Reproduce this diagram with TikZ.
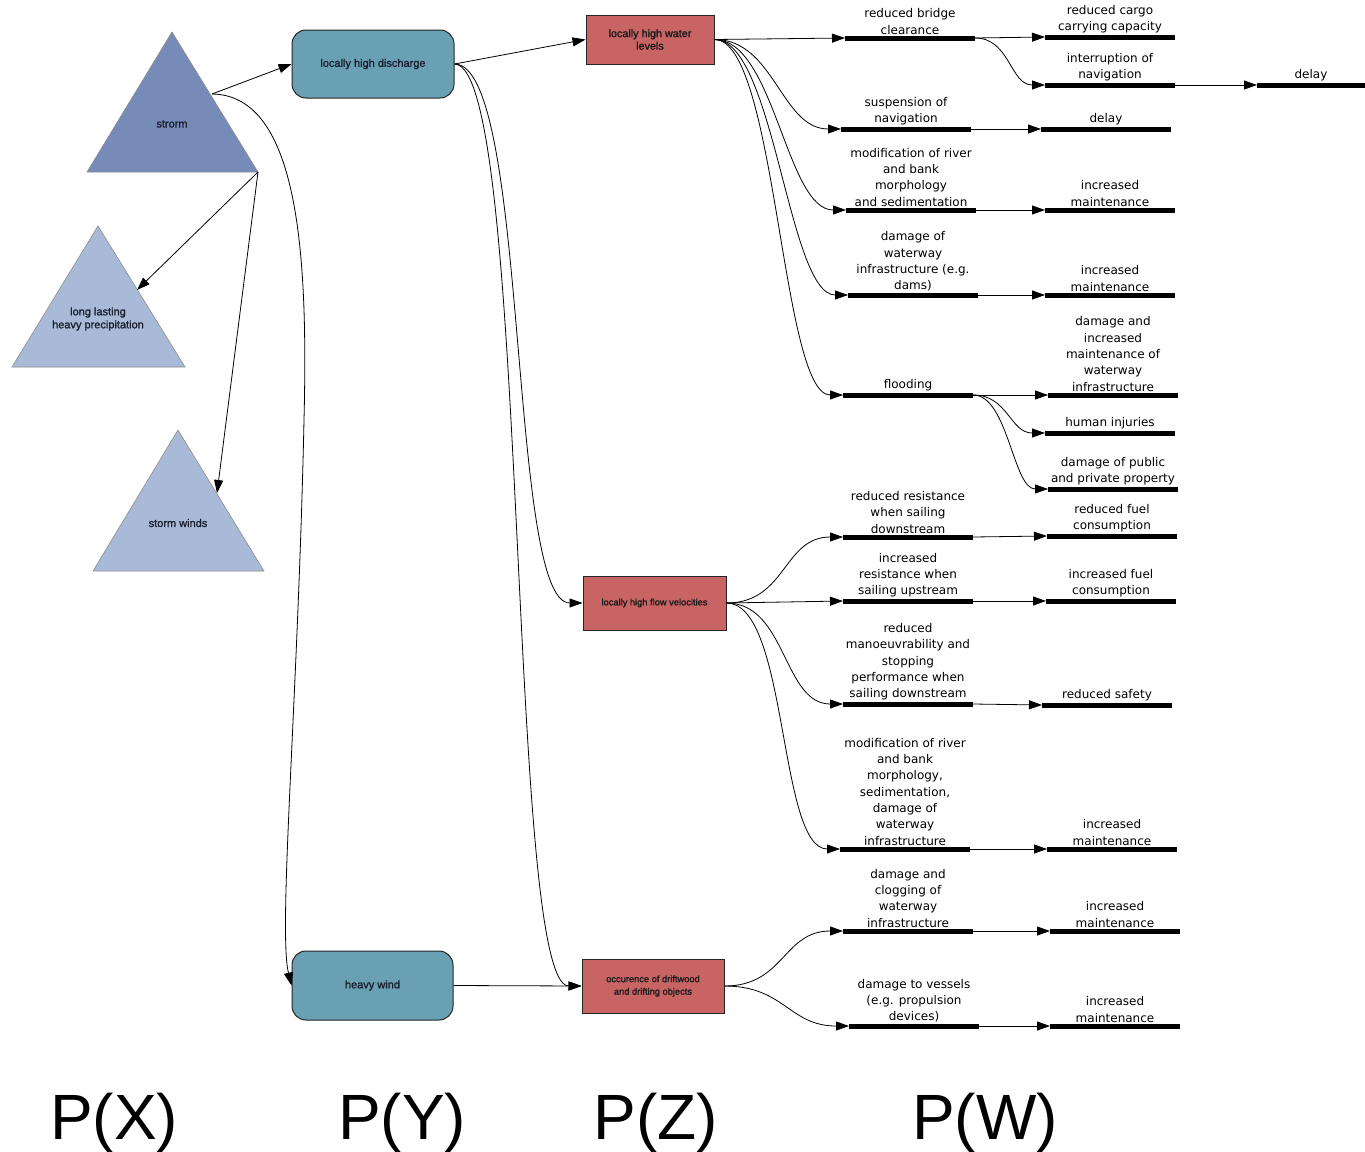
\documentclass[tikz,border=0pt]{standalone}
\usepackage{fontspec}
\setmainfont{Liberation Sans}
\newfontfamily\dvfont{DejaVu Sans}
\newfontfamily\shpfont[FakeBold=1.2]{Liberation Sans}
\usetikzlibrary{arrows.meta}
\definecolor{stormc}{HTML}{768BB7}
\definecolor{lightc}{HTML}{A8BAD8}
\definecolor{tealc}{HTML}{6AA0B4}
\definecolor{redc}{HTML}{C86464}
\definecolor{txtc}{HTML}{1A1F2E}
\newcommand\evt[5][130]{\node[bar, minimum width=#1pt, label={[lbl]above:{#5}}] (#2) at (#3,#4) {};}
\begin{document}
\begin{tikzpicture}[x=1pt,y=-1pt,
  arr/.style={draw=black, line width=0.8pt, -{Triangle[length=13pt,width=9pt]}},
  bar/.style={fill=black, minimum height=5pt, inner sep=0pt, outer sep=0pt},
  lbl/.style={font=\dvfont\fontsize{12}{16.3}\selectfont, align=center, inner sep=1pt, text=black},
  shp/.style={font=\shpfont\fontsize{11}{13}\selectfont, text=txtc, align=center, inner sep=0pt},
  tri/.style={draw=black!45, line width=0.6pt},
  tbox/.style={draw=black!85, line width=1pt, fill=tealc, rounded corners=14pt, inner sep=0pt,
    font=\shpfont\fontsize{11}{13}\selectfont, text=txtc, align=center},
  rbox/.style={draw=black!85, line width=1pt, fill=redc, inner sep=0pt,
    font=\shpfont\fontsize{9.3}{12.5}\selectfont, text=black!90, align=center},
  plbl/.style={font=\fontsize{64}{70}\selectfont, anchor=base, inner sep=0pt},
  sc/.style={out=0, in=180, distance=#1},
  sc/.default=60pt]
\useasboundingbox (0,0) rectangle (1365,1151);

% ---- triangles (P(X)) ----
\path[tri, fill=stormc] (172,32) -- (258,172) -- (87,172) -- cycle;
\path[tri, fill=lightc] (98,226) -- (185,367) -- (12,367) -- cycle;
\path[tri, fill=lightc] (178,430) -- (264,571) -- (93,571) -- cycle;
\node[shp] (storm) at (172,124) {strorm};
\node[shp] (rain) at (98,319) {long lasting\\heavy precipitation};
\node[shp] (winds) at (178,523) {storm winds};
\coordinate (stormR) at (212,94);
\coordinate (stormC) at (258,172);
\coordinate (rainR) at (137,290);
\coordinate (windsR) at (217,493);

% ---- P(Y) ----
\node[tbox, minimum width=162pt, minimum height=68pt] (dis) at (373,64) {locally high discharge};
\node[tbox, minimum width=161pt, minimum height=69pt] (hw) at (372.5,985.5) {heavy wind};

% ---- P(Z) ----
\node[rbox, minimum width=128pt, minimum height=49pt, font=\shpfont\fontsize{10.8}{12.5}\selectfont] (wl) at (650,39.5) {locally high water\\levels};
\node[rbox, minimum width=143pt, minimum height=54pt] (fv) at (654.5,603) {locally high flow velocities};
\node[rbox, minimum width=142pt, minimum height=54pt] (dw) at (653,986) {occurence of driftwood\\and drifting objects};

% ---- P(W) first column ----
\evt{bBridge}{910}{38}{reduced bridge\\clearance}
\evt{bSusp}{906}{129}{suspension of\\navigation}
\evt{bMod}{911}{210}{modification of river\\and bank\\morphology\\and sedimentation}
\evt{bDam}{913}{295}{damage of\\waterway\\infrastructure (e.g.\\dams)}
\evt{bFlood}{908}{395}{flooding}
\evt{bRedRes}{908}{537}{reduced resistance\\when sailing\\downstream}
\evt{bIncRes}{908}{601}{increased\\resistance when\\sailing upstream}
\evt{bManoe}{908}{704}{reduced\\manoeuvrability and\\stopping\\performance when\\sailing downstream}
\evt{bModB}{905}{849}{modification of river\\and bank\\morphology,\\sedimentation,\\damage of\\waterway\\infrastructure}
\evt{bClog}{908}{931}{damage and\\clogging of\\waterway\\infrastructure}
\evt{bVessel}{914}{1026}{damage to vessels\\(e.g. propulsion\\devices)}

% ---- P(W) second column ----
\evt{cCargo}{1110}{37}{reduced cargo\\carrying capacity}
\evt{cInterr}{1110}{85}{interruption of\\navigation}
\evt[108]{cDelayB}{1311}{85}{delay}
\evt{cDelay}{1106}{129}{delay}
\evt{cMaintA}{1110}{210}{increased\\maintenance}
\evt{cMaintB}{1110}{295}{increased\\maintenance}
\evt{cDamMaint}{1113}{395}{damage and\\increased\\maintenance of\\waterway\\infrastructure}
\evt{cInjur}{1110}{433}{human injuries}
\evt{cProp}{1113}{489}{damage of public\\and private property}
\evt{cRFuel}{1112}{536}{reduced fuel\\consumption}
\evt{cIFuel}{1111}{601}{increased fuel\\consumption}
\evt{cSafety}{1107}{705}{reduced safety}
\evt{cMaintC}{1112}{849}{increased\\maintenance}
\evt{cMaintD}{1115}{931}{increased\\maintenance}
\evt{cMaintE}{1115}{1026}{increased\\maintenance}

% ---- connectors P(X) ----
\draw[arr] (stormR) -- (dis.west);
\draw[arr] (stormC) -- (rainR);
\draw[arr] (stormC) -- (windsR);
\draw[arr] (stormR) .. controls (300,95) and (308,260) .. (304,420)
  .. controls (298,700) and (278,930) .. (hw.west);

% ---- connectors P(Y) ----
\draw[arr] (dis.east) -- (wl.west);
\draw[arr] (dis.east) to[sc=75pt] (fv.west);
\draw[arr] (dis.east) to[sc=75pt] (dw.west);
\draw[arr] (hw.east) -- (dw.west);

% ---- connectors P(Z) -> W ----
\draw[arr] (wl.east) -- (bBridge.west);
\draw[arr] (wl.east) to[sc] (bSusp.west);
\draw[arr] (wl.east) to[sc] (bMod.west);
\draw[arr] (wl.east) to[sc] (bDam.west);
\draw[arr] (wl.east) to[sc=62pt] (bFlood.west);
\draw[arr] (fv.east) to[sc] (bRedRes.west);
\draw[arr] (fv.east) -- (bIncRes.west);
\draw[arr] (fv.east) to[sc] (bManoe.west);
\draw[arr] (fv.east) to[sc=62pt] (bModB.west);
\draw[arr] (dw.east) to[sc] (bClog.west);
\draw[arr] (dw.east) to[sc] (bVessel.west);

% ---- connectors W -> W ----
\draw[arr] (bBridge.east) -- (cCargo.west);
\draw[arr] (bBridge.east) to[sc=35pt] (cInterr.west);
\draw[arr] (cInterr.east) -- (cDelayB.west);
\draw[arr] (bSusp.east) -- (cDelay.west);
\draw[arr] (bMod.east) -- (cMaintA.west);
\draw[arr] (bDam.east) -- (cMaintB.west);
\draw[arr] (bFlood.east) -- (cDamMaint.west);
\draw[arr] (bFlood.east) to[sc=35pt] (cInjur.west);
\draw[arr] (bFlood.east) to[sc=35pt] (cProp.west);
\draw[arr] (bRedRes.east) -- (cRFuel.west);
\draw[arr] (bIncRes.east) -- (cIFuel.west);
\draw[arr] (bManoe.east) -- (cSafety.west);
\draw[arr] (bModB.east) -- (cMaintC.west);
\draw[arr] (bClog.east) -- (cMaintD.west);
\draw[arr] (bVessel.east) -- (cMaintE.west);

% ---- column labels ----
\node[plbl] (px) at (114,1139) {P(X)};
\node[plbl] (py) at (402,1139) {P(Y)};
\node[plbl] (pz) at (656,1139) {P(Z)};
\node[plbl] (pw) at (985,1139) {P(W)};
\end{tikzpicture}
\end{document}
